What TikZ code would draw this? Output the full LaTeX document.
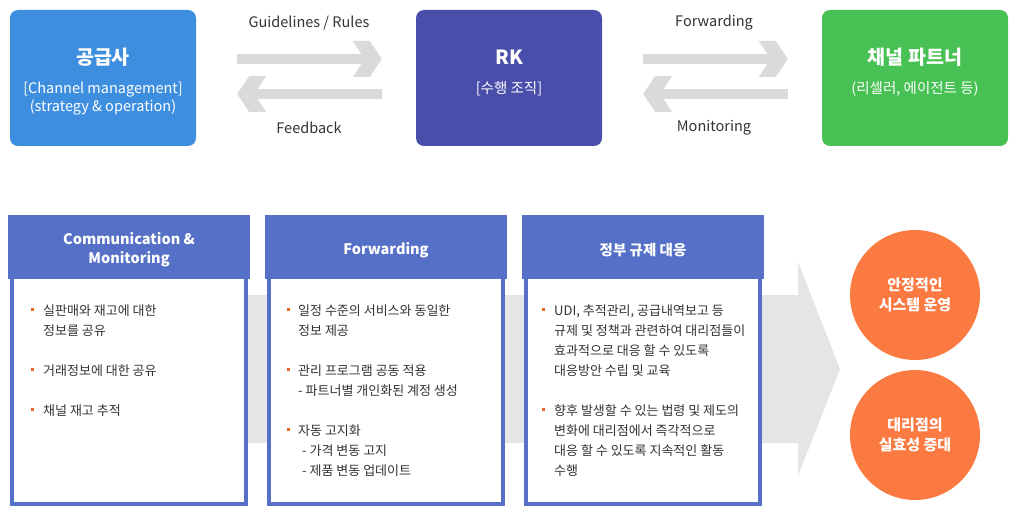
\documentclass[tikz,border=0pt]{standalone}
\usepackage{fontspec}
\setmainfont{Noto Sans CJK KR}
\usetikzlibrary{calc}
\definecolor{supblue}{RGB}{62,142,224}
\definecolor{rkblue}{RGB}{74,78,171}
\definecolor{partgreen}{RGB}{71,193,83}
\definecolor{headblue}{RGB}{85,112,198}
\definecolor{arrowgray}{RGB}{218,218,218}
\definecolor{bandgray}{RGB}{229,229,229}
\definecolor{bulorange}{RGB}{242,101,34}
\definecolor{goalorange}{RGB}{251,122,66}
\definecolor{textgray}{RGB}{51,51,51}

\begin{document}
\begin{tikzpicture}[x=1pt, y=-1pt,
 topbox/.style={rounded corners=8pt, minimum width=186pt, minimum height=136pt, inner sep=0pt},
 title/.style={text=white, font=\fontsize{19.5}{21}\selectfont\bfseries},
 sub/.style={text=white, font=\fontsize{14.5}{17}\selectfont},
 flow/.style={text=textgray, font=\fontsize{14.5}{16}\selectfont},
 col/.style={draw=headblue, line width=4pt, fill=white, minimum width=234pt, minimum height=285pt, inner sep=0pt},
 head/.style={text=white, align=center, font=\fontsize{14.5}{19}\selectfont\bfseries},
 txt/.style={anchor=west, inner sep=0pt, text=textgray, font=\fontsize{13}{14}\selectfont},
 goal/.style={circle, fill=goalorange, minimum size=130pt, inner sep=0pt, text=white, align=center, font=\fontsize{15}{20}\selectfont\bfseries},
 garrow/.pic={
  \fill[arrowgray] (-145,-5) rectangle (-14,5);
  \fill[arrowgray] (-29,-18) -- (-12,-18) -- (0,0) -- (-12,18) -- (-29,18) -- (-17,0) -- cycle;
 }]
 \useasboundingbox (0,0) rectangle (1018,516);

 % top row
 \node[topbox, fill=supblue] (sup) at (103,78){};
 \node[topbox, fill=rkblue] (rk) at (509,78){};
 \node[topbox, fill=partgreen] (par) at (915,78){};
 \node[title] at (103,57){공급사};
 \node[sub] at (103,90){[Channel management]};
 \node[sub] at (103,107){(strategy \& operation)};
 \node[title] at (509,57){RK};
 \node[sub] at (509,89){[수행 조직]};
 \node[title] at (915,57){채널 파트너};
 \node[sub] at (915,89){(리셀러, 에이전트 등)};

 \foreach \a/\b in {sup/rk, rk/par}{
  \coordinate (\a-out) at ($(\b.west)+(-34,-19)$);
  \coordinate (\a-back) at ($(\a.east)+(41,16)$);
  \pic at (\a-out) {garrow};
  \pic[xscale=-1] at (\a-back) {garrow};
 }
 \node[flow] at (309,23){Guidelines / Rules};
 \node[flow] at (309,128){Feedback};
 \node[flow] at (714,23){Forwarding};
 \node[flow] at (714,128){Monitoring};

 % bottom row
 \fill[bandgray] (240,295) -- (798,295) -- (798,262) -- (840,369) -- (798,476) -- (798,443) -- (240,443) -- cycle;

 \node[col] (c1) at (129,361.5){};
 \node[col] (c2) at (386,361.5){};
 \node[col] (c3) at (643,361.5){};
 \foreach \c in {c1,c2,c3}
  \fill[headblue] ($(\c.north west)+(-2,-2)$) rectangle ($(\c.north east)+(2,62)$);
 \node[head] at (129,250){Communication \&\\Monitoring};
 \node[head] at (386,250){Forwarding};
 \node[head] at (643,250){정부 규제 대응};

 \foreach \x/\y in {31/308, 31/368, 31/408, 287/308, 287/368, 287/428, 542/308, 542/408}
  \fill[bulorange] (\x,\y) rectangle +(3,3);

 \node[txt] at (43,311){실판매와 재고에 대한};
 \node[txt] at (43,331){정보를 공유};
 \node[txt] at (43,371){거래정보에 대한 공유};
 \node[txt] at (43,411){채널 재고 추적};

 \node[txt] at (298,311){일정 수준의 서비스와 동일한};
 \node[txt] at (298,331){정보 제공};
 \node[txt] at (298,371){관리 프로그램 공동 적용};
 \node[txt] at (298,391){- 파트너별 개인화된 계정 생성};
 \node[txt] at (298,431){자동 고지화};
 \node[txt] at (302,451){- 가격 변동 고지};
 \node[txt] at (302,471){- 제품 변동 업데이트};

 \node[txt] at (554,311){UDI, 추적관리, 공급내역보고 등};
 \node[txt] at (554,331){규제 및 정책과 관련하여 대리점들이};
 \node[txt] at (554,351){효과적으로 대응 할 수 있도록};
 \node[txt] at (554,371){대응방안 수립 및 교육};
 \node[txt] at (554,411){향후 발생할 수 있는 법령 및 제도의};
 \node[txt] at (554,431){변화에 대리점에서 즉각적으로};
 \node[txt] at (554,451){대응 할 수 있도록 지속적인 활동};
 \node[txt] at (554,471){수행};

 \node[goal] (g1) at (915,295){안정적인\\시스템 운영};
 \node[goal] (g2) at (915,435){대리점의\\실효성 증대};
\end{tikzpicture}
\end{document}
